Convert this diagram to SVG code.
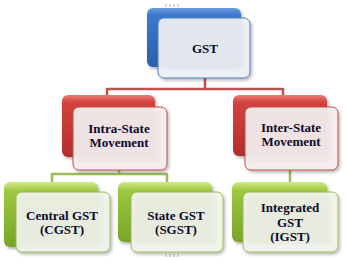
<svg xmlns="http://www.w3.org/2000/svg" width="346" height="263" viewBox="0 0 346 263">
<defs>
<linearGradient id="gBlue" x1="0" y1="0" x2="0" y2="1">
<stop offset="0" stop-color="#6c9de0"/><stop offset="0.12" stop-color="#3d78cc"/><stop offset="1" stop-color="#2a5fae"/>
</linearGradient>
<linearGradient id="gRed" x1="0" y1="0" x2="0" y2="1">
<stop offset="0" stop-color="#ee7a76"/><stop offset="0.12" stop-color="#d2423f"/><stop offset="1" stop-color="#b32e2c"/>
</linearGradient>
<linearGradient id="gGreen" x1="0" y1="0" x2="0" y2="1">
<stop offset="0" stop-color="#d2ea8a"/><stop offset="0.14" stop-color="#9cc83e"/><stop offset="1" stop-color="#78a52a"/>
</linearGradient>
<filter id="sh" x="-10%" y="-10%" width="130%" height="130%">
<feDropShadow dx="1.5" dy="2" stdDeviation="1.5" flood-color="#000" flood-opacity="0.3"/>
</filter>
</defs>
<style>
.card{stroke-width:1;filter:url(#sh)}
.inner{opacity:0.5}
.t{font-family:"Liberation Serif","Times New Roman",serif;font-weight:bold;font-size:13px;fill:#0b0b2a;text-anchor:middle}
.red{stroke:#c0504d;stroke-width:2.5;fill:none}
.grn{stroke:#9bbb59;stroke-width:2.5;fill:none}
.tick{stroke:#999;stroke-width:0.8}
</style>
<g id="connectors">
<path class="red" d="M205 78 V89 M107 89 H283 M107 88 V96 M283 88 V96"/>
<path class="grn" d="M119 170 V174 M52 174 H167 M52 173 V183 M167 173 V183 M290 170 V183"/>
</g>
<g id="gst">
<path class="tick" d="M166 4 V7 M170 4 V7 M174 4 V7 M178 4 V7"/>
<rect x="147" y="8" width="94" height="59" rx="6" fill="url(#gBlue)" filter="url(#sh)"/>
<rect class="card" x="158" y="18" width="92" height="60" rx="6" fill="#eef1f5" fill-opacity="0.93" stroke="#4f81bd"/>
<rect class="inner" x="162" y="22" width="82" height="48" rx="4" fill="#e2e6ec"/>
<text class="t" x="205" y="53" font-size="14">GST</text>
</g>
<g id="intra">
<rect x="62" y="95" width="93" height="62" rx="6" fill="url(#gRed)" filter="url(#sh)"/>
<rect class="card" x="73" y="107" width="94" height="63" rx="6" fill="#f6efef" fill-opacity="0.93" stroke="#c0504d"/>
<rect class="inner" x="77" y="111" width="84" height="51" rx="4" fill="#ece2e2"/>
<text class="t" x="119" y="133">Intra-State</text>
<text class="t" x="119" y="147">Movement</text>
</g>
<g id="inter">
<rect x="233" y="95" width="94" height="61" rx="6" fill="url(#gRed)" filter="url(#sh)"/>
<rect class="card" x="245" y="107" width="93" height="63" rx="6" fill="#f6efef" fill-opacity="0.93" stroke="#c0504d"/>
<rect class="inner" x="249" y="111" width="83" height="51" rx="4" fill="#ece2e2"/>
<text class="t" x="291" y="132">Inter-State</text>
<text class="t" x="291" y="146">Movement</text>
</g>
<g id="cgst">
<rect x="4" y="182" width="94" height="65" rx="6" fill="url(#gGreen)" filter="url(#sh)"/>
<rect class="card" x="16" y="192" width="94" height="60" rx="6" fill="#f1f4ec" fill-opacity="0.93" stroke="#9bbb59"/>
<rect class="inner" x="20" y="196" width="84" height="48" rx="4" fill="#e5eadc"/>
<text class="t" x="62" y="220">Central GST</text>
<text class="t" x="62" y="234">(CGST)</text>
</g>
<g id="sgst">
<rect x="118" y="182" width="94" height="60" rx="6" fill="url(#gGreen)" filter="url(#sh)"/>
<rect class="card" x="131" y="192" width="92" height="60" rx="6" fill="#f1f4ec" fill-opacity="0.93" stroke="#9bbb59"/>
<rect class="inner" x="135" y="196" width="82" height="48" rx="4" fill="#e5eadc"/>
<text class="t" x="176" y="220">State GST</text>
<text class="t" x="176" y="234">(SGST)</text>
<path class="tick" d="M166 254 V257 M170 254 V257 M174 254 V257 M178 254 V257"/>
</g>
<g id="igst">
<rect x="232" y="182" width="95" height="60" rx="6" fill="url(#gGreen)" filter="url(#sh)"/>
<rect class="card" x="243" y="192" width="95" height="60" rx="6" fill="#f1f4ec" fill-opacity="0.93" stroke="#9bbb59"/>
<rect class="inner" x="247" y="196" width="85" height="48" rx="4" fill="#e5eadc"/>
<text class="t" x="290" y="212">Integrated</text>
<text class="t" x="290" y="227">GST</text>
<text class="t" x="290" y="241">(IGST)</text>
</g>
</svg>
